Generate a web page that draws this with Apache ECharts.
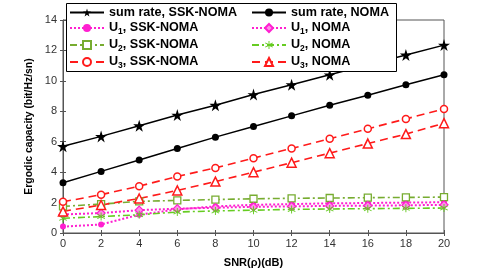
<!DOCTYPE html>
<html><head><meta charset="utf-8">
<script src="https://cdn.jsdelivr.net/npm/echarts@6/dist/echarts.min.js"></script>
<style>html,body{margin:0;padding:0;background:#fff}#c{width:491px;height:273px}</style>
</head><body><div id="c"></div>
<script>
const snr = [0,2,4,6,8,10,12,14,16,18,20];
const sumSSK  = [5.7,6.35,7.05,7.75,8.4,9.1,9.75,10.4,11.05,11.7,12.35];
const sumNOMA = [3.3,4.05,4.8,5.55,6.3,7.0,7.7,8.4,9.05,9.75,10.4];
const u1SSK  = [0.42,0.56,1.2,1.55,1.75,1.85,1.9,1.95,1.97,2.0,2.02];
const u1NOMA = [1.22,1.31,1.5,1.6,1.66,1.72,1.75,1.78,1.8,1.82,1.85];
const u2SSK  = [1.75,1.9,2.08,2.14,2.2,2.25,2.28,2.3,2.32,2.34,2.36];
const u2NOMA = [0.97,1.08,1.2,1.38,1.45,1.5,1.55,1.58,1.6,1.62,1.64];
const u3SSK  = [2.05,2.52,3.08,3.72,4.28,4.92,5.56,6.19,6.85,7.5,8.15];
const u3NOMA = [1.42,1.84,2.27,2.8,3.38,4.0,4.62,5.25,5.88,6.5,7.22];
const xTicks = {min:0, max:20, interval:2};
const yTicks = {min:0, max:14, interval:2};

const names = ['sum rate, SSK-NOMA','U1, SSK-NOMA','U2, SSK-NOMA','U3, SSK-NOMA',
               'sum rate, NOMA','U1, NOMA','U2, NOMA','U3, NOMA'];
const star5 = 'path://M50,0 L61,35 L98,35 L68,57 L79,91 L50,70 L21,91 L32,57 L2,35 L39,35 Z';
const aster = 'path://M45,0 L55,0 L55,38 L88,19 L93,28 L60,47 L60,53 L93,72 L88,81 L55,62 L55,100 L45,100 L45,62 L12,81 L7,72 L40,53 L40,47 L7,28 L12,19 L45,38 Z';
const MAG='#ff1fd0', OLIVE='#77ac30', LIME='#66cc22', RED='#ff1a1a';
function pts(a){return snr.map((x,i)=>[x,a[i]]);}
function s(name,data,color,ltype,lw,symbol,size,fill,bw){
  return {name, type:'line', data:pts(data), symbol, symbolSize:size,
    lineStyle:{color, type:ltype, width:lw},
    itemStyle:{color:fill, borderColor:color, borderWidth:bw},
    emphasis:{disabled:true}, animation:false, z:2};
}
const series=[
  s(names[0],sumSSK,'#000','solid',1.5,star5,12,'#000',0),
  s(names[1],u1SSK,MAG,[2,2],2,'circle',6,MAG,0),
  s(names[2],u2SSK,OLIVE,[7,3,2,3],1.6,'rect',7,'#fff',1.3),
  s(names[3],u3SSK,RED,[8,5],1.6,'circle',7,'#fff',1.5),
  s(names[4],sumNOMA,'#000','solid',1.5,'circle',7,'#000',0),
  s(names[5],u1NOMA,MAG,[2,2],2,'diamond',8,'#ff8ce8',1.2),
  s(names[6],u2NOMA,LIME,[7,3,2,3],1.6,aster,8,LIME,0),
  s(names[7],u3NOMA,RED,[8,5],1.6,'triangle',9,'#fff',1.5),
];
function fmt(n){
  const m=n.match(/^U(\d)(.*)$/);
  if(m) return '{b|U}{s|'+m[1]+'}{b|'+m[2]+'}';
  return '{b|'+n+'}';
}
const rich={b:{fontSize:12.6,fontWeight:'bold',color:'#000',fontFamily:'Liberation Sans',lineHeight:14},
            s:{fontSize:8.5,fontWeight:'bold',color:'#000',fontFamily:'Liberation Sans',lineHeight:14,padding:[7,0,0,0]}};
function leg(data,left){
  return {data, orient:'vertical', left, top:6, itemWidth:34, itemHeight:10, itemGap:1,
    formatter:fmt, textStyle:{rich}, selectedMode:false, z:5, padding:0};
}
const axLab={color:'#333',fontSize:11,fontFamily:'Liberation Sans'};
const chart=echarts.init(document.getElementById('c'));
chart.setOption({
  animation:false,
  grid:{left:63,right:47,top:20,bottom:31,show:true,borderColor:'#555',borderWidth:1},
  xAxis:[{type:'value',...xTicks,name:'SNR(ρ)(dB)',nameLocation:'middle',nameGap:24,
    nameTextStyle:{fontWeight:'bold',fontSize:11,color:'#000',fontFamily:'Liberation Sans'},
    axisLine:{lineStyle:{color:'#555'}},axisTick:{inside:true,length:3,lineStyle:{color:'#555'}},
    axisLabel:{...axLab,margin:5},splitLine:{show:false}},
   {type:'value',position:'top',...xTicks,axisLine:{show:false},axisTick:{inside:true,length:3,lineStyle:{color:'#555'}},axisLabel:{show:false},splitLine:{show:false}}],
  yAxis:[{type:'value',...yTicks,name:'Ergodic capacity (bit/Hz/sn)',nameLocation:'middle',nameGap:18,
    nameTextStyle:{fontWeight:'bold',fontSize:10.4,color:'#000',fontFamily:'Liberation Sans'},
    axisLine:{show:true,lineStyle:{color:'#555'}},axisTick:{show:true,inside:true,length:3,lineStyle:{color:'#555'}},
    axisLabel:{...axLab,margin:6},splitLine:{show:false}},
   {type:'value',position:'right',...yTicks,axisLine:{show:false},axisTick:{show:true,inside:true,length:3,lineStyle:{color:'#555'}},axisLabel:{show:false},splitLine:{show:false}}],
  legend:[leg(names.slice(0,4),69),leg(names.slice(4),251)],
  graphic:[{type:'rect',shape:{x:66.5,y:3.5,width:330,height:68},style:{fill:'#fff',stroke:'#000',lineWidth:1},z:4}],
  series
});
</script></body></html>
